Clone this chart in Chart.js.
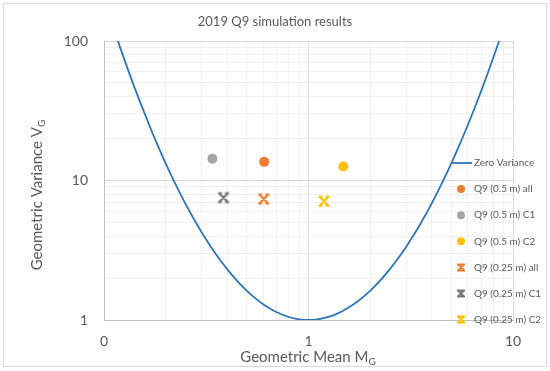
<!DOCTYPE html>
<html>
<head>
<meta charset="utf-8">
<script src="https://cdn.jsdelivr.net/npm/chart.js@4/dist/chart.umd.min.js"></script>
<style>
  html, body { margin: 0; padding: 0; background: #fff; }
  #wrap { width: 550px; height: 371px; position: relative; }
</style>
</head>
<body>
<div id="wrap"><canvas id="chart" width="550" height="371"></canvas></div>
<script>
// zero variance curve
var curveM = [0.11, 0.12, 0.13, 0.14, 0.15, 0.17, 0.18, 0.2, 0.22, 0.25, 0.28, 0.3, 0.33, 0.35, 0.4, 0.45, 0.5, 0.55, 0.6, 0.65,
              0.7, 0.8, 0.9, 1, 1.1, 1.25, 1.35, 1.5, 1.75, 2, 2.25, 2.5, 2.75, 3, 3.25, 3.5, 4, 4.5, 5, 5.5, 6, 6.5, 7, 7.5, 8, 8.5, 9];
var curveV = [130.6, 89.6, 64.2, 47.7, 36.6, 23.1, 18.9, 13.33, 9.9, 6.83, 5.056, 4.26, 3.418, 3.01, 2.315, 1.892, 1.617, 1.43, 1.298, 1.204,
              1.136, 1.051, 1.011, 1, 1.009, 1.051, 1.094, 1.179, 1.368, 1.617, 1.93, 2.315, 2.782, 3.343, 4.012, 4.8, 6.83, 9.61, 13.33, 18.28, 24.79, 33.23, 44.1, 57.96, 75.5, 97.5, 124.9];

// simulation results (M_G, V_G)
var seriesNames = ['Q9 (0.5 m) all', 'Q9 (0.5 m) C1', 'Q9 (0.5 m) C2', 'Q9 (0.25 m) all', 'Q9 (0.25 m) C1', 'Q9 (0.25 m) C2'];
var seriesM = [0.607, 0.339, 1.48, 0.604, 0.384, 1.19];
var seriesV = [13.6, 14.3, 12.6, 7.37, 7.53, 7.1];

var xTickValues = [0.1, 1, 10];
var xTickLabels = ['0', '1', '10'];
var yTickValues = [1, 10, 100];
var yTickLabels = ['1', '10', '100'];

var FONT = 'Lato, "Open Sans", sans-serif';
var TEXT = '#595959';
var seriesColors = ['#ED7D31', '#A5A5A5', '#FFC000', '#ED7D31', '#757575', '#FFC000'];
var seriesShapes = ['circle', 'circle', 'circle', 'cross', 'cross', 'cross'];

function drawCross(g, cx, cy, r, color, lw){
    g.save();
    g.strokeStyle = color;
    g.lineWidth = lw;
    g.lineCap = 'butt';
    g.beginPath();
    g.moveTo(cx - r, cy - r); g.lineTo(cx + r, cy + r);
    g.moveTo(cx + r, cy - r); g.lineTo(cx - r, cy + r);
    g.moveTo(cx - r - 1, cy - r); g.lineTo(cx - r + 3, cy - r);
    g.moveTo(cx + r + 1, cy - r); g.lineTo(cx + r - 3, cy - r);
    g.moveTo(cx - r - 1, cy + r); g.lineTo(cx - r + 3, cy + r);
    g.moveTo(cx + r + 1, cy + r); g.lineTo(cx + r - 3, cy + r);
    g.stroke();
    g.restore();
}

function crossImage(color){
    var c = document.createElement('canvas');
    c.width = 14; c.height = 14;
    drawCross(c.getContext('2d'), 7, 7, 4.5, color, 2.2);
    return c;
}

function gridValues(lo, hi){
    var out = [];
    for(var e = lo; e < hi; e++){
        for(var k = 1; k < 10; k++) out.push(k * Math.pow(10, e));
    }
    out.push(Math.pow(10, hi));
    return out;
}

function isDecade(v){
    var l = Math.log10(v);
    return Math.abs(l - Math.round(l)) < 1e-6;
}

function tickLabel(values, labels){
    return function(value){
        for(var i = 0; i < values.length; i++){
            if(Math.abs(values[i] - value) < 1e-9 * values[i]) return labels[i];
        }
        return '';
    };
}

var datasets = [{
    label: 'Zero Variance',
    data: curveM.map(function(m, i){ return {x: m, y: curveV[i]}; }),
    showLine: true,
    borderColor: '#2E75B6',
    borderWidth: 1.8,
    pointRadius: 0,
    cubicInterpolationMode: 'monotone',
    fill: false,
    shape: 'line'
}];

seriesNames.forEach(function(name, i){
    var isCross = seriesShapes[i] === 'cross';
    datasets.push({
        label: name,
        data: [{x: seriesM[i], y: seriesV[i]}],
        showLine: false,
        pointStyle: isCross ? crossImage(seriesColors[i]) : 'circle',
        pointRadius: 5,
        pointHoverRadius: 5,
        backgroundColor: seriesColors[i],
        borderColor: seriesColors[i],
        borderWidth: 0,
        shape: seriesShapes[i]
    });
});

// titles with subscripts, chart title, legend drawn over the plot
var decorations = {
    id: 'decorations',
    afterDraw: function(chart){
        var ctx = chart.ctx;
        ctx.save();

        ctx.strokeStyle = '#d9d9d9';
        ctx.lineWidth = 1;
        ctx.strokeRect(3.5, 3.5, 543, 363);

        ctx.fillStyle = TEXT;
        ctx.font = '13px ' + FONT;
        ctx.textAlign = 'center';
        ctx.textBaseline = 'middle';
        ctx.fillText('2019 Q9 simulation results', 275, 22);

        function subText(main, sub, x, y){
            ctx.font = '15px ' + FONT;
            var w1 = ctx.measureText(main).width;
            ctx.font = '10px ' + FONT;
            var w2 = ctx.measureText(sub).width;
            var start = x - (w1 + w2) / 2;
            ctx.textAlign = 'left';
            ctx.textBaseline = 'alphabetic';
            ctx.font = '15px ' + FONT;
            ctx.fillText(main, start, y);
            ctx.font = '10px ' + FONT;
            ctx.fillText(sub, start + w1, y + 3);
        }

        subText('Geometric Mean M', 'G', 308, 362);

        ctx.save();
        ctx.translate(42, 195);
        ctx.rotate(-Math.PI / 2);
        subText('Geometric Variance V', 'G', 0, 0);
        ctx.restore();

        // legend
        var lx = 461, ly = 163, step = 26.1;
        chart.data.datasets.forEach(function(ds, i){
            var y = ly + i * step;
            if(ds.shape === 'line'){
                ctx.strokeStyle = ds.borderColor;
                ctx.lineWidth = 1.8;
                ctx.beginPath();
                ctx.moveTo(451, y); ctx.lineTo(472, y);
                ctx.stroke();
            } else if(ds.shape === 'circle'){
                ctx.fillStyle = ds.backgroundColor;
                ctx.beginPath();
                ctx.arc(lx, y, 4, 0, Math.PI * 2);
                ctx.fill();
            } else {
                drawCross(ctx, lx, y, 3, ds.borderColor, 2);
            }
            ctx.fillStyle = TEXT;
            ctx.font = '10px ' + FONT;
            ctx.textAlign = 'left';
            ctx.textBaseline = 'middle';
            ctx.fillText(ds.label, 474, y);
        });

        ctx.restore();
    }
};

new Chart(document.getElementById('chart'), {
    type: 'scatter',
    data: {datasets: datasets},
    options: {
        responsive: false,
        animation: false,
        layout: {padding: {left: 0, right: 37, top: 41, bottom: 0}},
        plugins: {
            legend: {display: false},
            title: {display: false},
            tooltip: {enabled: false}
        },
        scales: {
            x: {
                type: 'logarithmic',
                min: 0.1,
                max: 10,
                afterBuildTicks: function(scale){
                    scale.ticks = gridValues(-1, 1).map(function(v){ return {value: v}; });
                },
                afterFit: function(scale){ scale.height = 51; },
                grid: {
                    drawTicks: false,
                    color: function(c){ return c.tick && isDecade(c.tick.value) ? '#d9d9d9' : '#f0f0f0'; },
                    lineWidth: 1
                },
                border: {display: true, color: '#bfbfbf'},
                ticks: {
                    autoSkip: false,
                    maxRotation: 0,
                    padding: 13,
                    color: TEXT,
                    font: {family: FONT, size: 14},
                    callback: tickLabel(xTickValues, xTickLabels)
                }
            },
            y: {
                type: 'logarithmic',
                min: 1,
                max: 100,
                afterBuildTicks: function(scale){
                    scale.ticks = gridValues(0, 2).map(function(v){ return {value: v}; });
                },
                afterFit: function(scale){ scale.width = 104; },
                grid: {
                    drawTicks: false,
                    color: function(c){ return c.tick && isDecade(c.tick.value) ? '#d9d9d9' : '#f0f0f0'; },
                    lineWidth: 1
                },
                border: {display: true, color: '#bfbfbf'},
                ticks: {
                    autoSkip: false,
                    padding: 16,
                    color: TEXT,
                    font: {family: FONT, size: 14},
                    callback: tickLabel(yTickValues, yTickLabels)
                }
            }
        }
    },
    plugins: [decorations]
});
</script>
</body>
</html>
